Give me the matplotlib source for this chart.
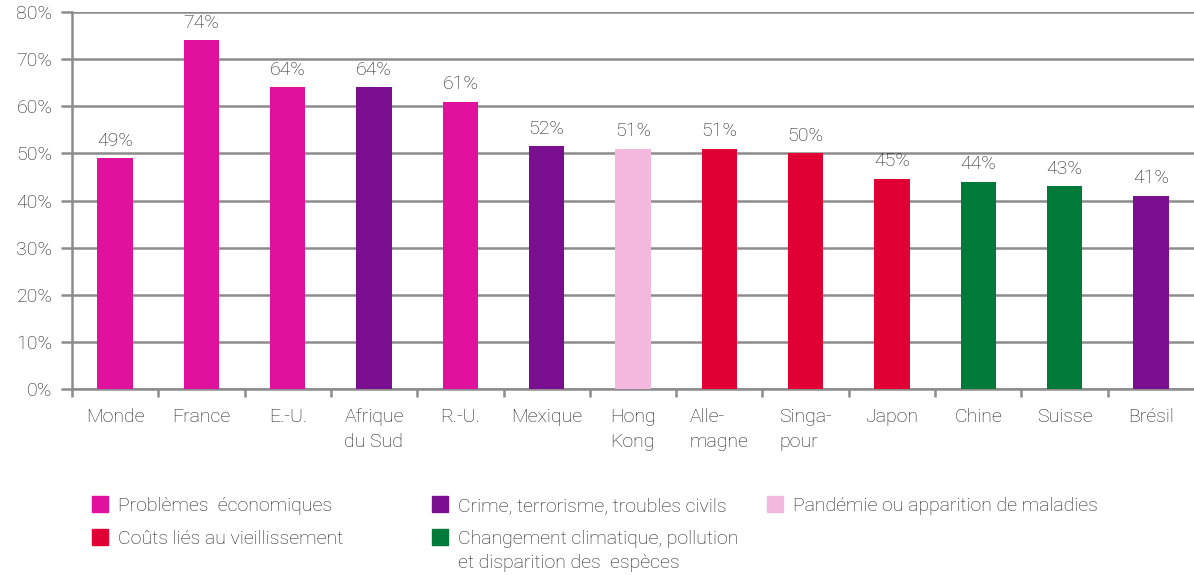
import matplotlib
matplotlib.use("Agg")
import matplotlib.pyplot as plt
from matplotlib.patches import Rectangle

# data
countries = ["Monde", "France", "E.-U.", "Afrique\ndu Sud", "R.-U.", "Mexique",
             "Hong\nKong", "Alle-\nmagne", "Singa-\npour", "Japon", "Chine",
             "Suisse", "Brésil"]
values = [49, 74, 64, 64, 61, 51.5, 51, 51, 50, 44.6, 44, 43, 41]
value_labels = ["49%", "74%", "64%", "64%", "61%", "52%", "51%", "51%",
                "50%", "45%", "44%", "43%", "41%"]
risk_type = ["eco", "eco", "eco", "crime", "eco", "crime", "pand",
             "age", "age", "age", "clim", "clim", "crime"]

legend_keys = ["eco", "crime", "pand", "age", "clim"]
legend_labels = ["Problèmes  économiques", "Crime, terrorisme, troubles civils",
                 "Pandémie ou apparition de maladies", "Coûts liés au vieillissement",
                 "Changement climatique, pollution\net disparition des  espèces"]

colors = {"eco": "#E0119D", "crime": "#7A0F8F", "pand": "#F4B8DF",
          "age": "#E00034", "clim": "#007A38"}

plt.rcParams["font.family"] = ["Roboto", "DejaVu Sans"]
plt.rcParams["font.weight"] = "light"
txt = "#1e1e1e"
grey = "#8c8c8c"
fs = 14

fig = plt.figure(figsize=(11.94, 5.75), dpi=100)
ax = fig.add_axes([72 / 1194, 1 - 389 / 575, 1 - 72 / 1194, 377 / 575])

x = range(len(countries))
ax.bar(x, values, width=0.41, color=[colors[r] for r in risk_type], zorder=3)

for i, v in enumerate(values):
    ax.annotate(value_labels[i], (i, v), xytext=(0, 6), textcoords="offset points",
                ha="center", va="bottom", fontsize=fs, color=txt)

ax.set_xlim(-0.5, len(countries) - 0.5)
ax.set_ylim(0, 80)
ax.set_yticks(range(0, 81, 10))
ax.set_yticklabels([f"{t}%" for t in range(0, 81, 10)])
ax.yaxis.grid(True, color=grey, lw=1.8)
ax.set_axisbelow(True)

ax.set_xticks([i - 0.5 for i in x], minor=False)
ax.set_xticklabels([])
ax.set_xticks(list(x), minor=True)
ax.set_xticklabels(countries, minor=True, multialignment="left", linespacing=1.5)
ax.tick_params(axis="x", which="minor", length=0, pad=14, labelsize=fs, labelcolor=txt)
ax.tick_params(axis="x", which="major", length=6, width=1.8, color=grey, direction="out")
ax.tick_params(axis="y", length=8, width=1.8, color=grey, labelsize=fs, labelcolor=txt, pad=6)

for s in ["top", "right"]:
    ax.spines[s].set_visible(False)
for s in ["left", "bottom"]:
    ax.spines[s].set_color(grey)
    ax.spines[s].set_linewidth(1.8)

# legend drawn by hand in pixel coords
W, H = 1194, 575
pos = [(92, 504), (432, 504), (767, 504), (92, 537), (432, 537)]
for key, label, (px, py) in zip(legend_keys, legend_labels, pos):
    fig.patches.append(Rectangle((px / W, 1 - (py + 8) / H), 16 / W, 16 / H,
                                 transform=fig.transFigure, color=colors[key]))
    fig.text((px + 26) / W, 1 - (py - 7) / H, label, ha="left", va="top",
             fontsize=fs, color=txt, linespacing=1.45)

fig.savefig("out.png", dpi=100)
